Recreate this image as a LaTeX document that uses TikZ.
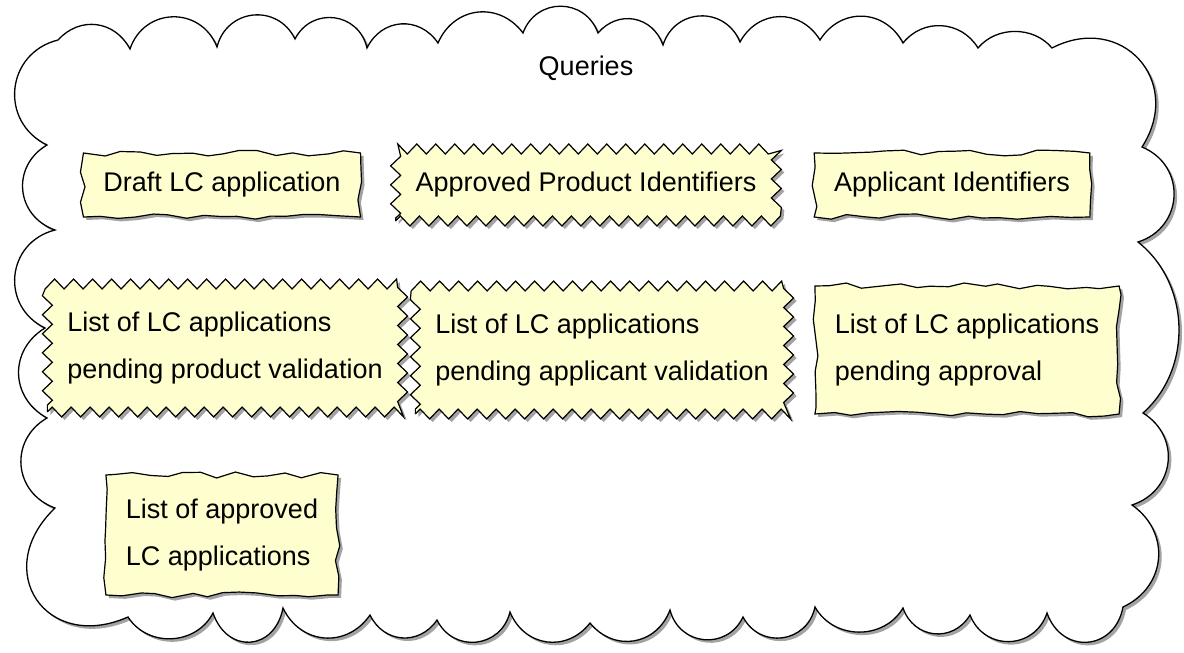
\documentclass[tikz,border=0pt]{standalone}
\usepackage{fontspec}
\setmainfont{Liberation Sans}
\usepackage{tikz}
\usetikzlibrary{decorations.pathmorphing,shadows}
\definecolor{notefill}{HTML}{FEFECE}
\newcommand\qfont{\fontsize{27pt}{47pt}\selectfont}
\tikzset{
  querycloud/.style = {draw, line width=1.3pt, fill=white,
    drop shadow={shadow xshift=3pt, shadow yshift=-3pt, fill=black!60, opacity=.6},
    every to/.style={bend left=70, looseness=1.3}},
  query/.style = {draw, line width=1.2pt, fill=notefill, font=\qfont,
    inner xsep=20pt, minimum height=64pt, decorate,
    decoration={zigzag, segment length=19pt, amplitude=5pt},
    drop shadow={shadow xshift=3pt, shadow yshift=-3pt, fill=black!60, opacity=.6}},
  rough/.style = {decoration={random steps, segment length=17pt, amplitude=3pt}},
  twoline/.style = {align=left, minimum height=128pt},
}

\begin{document}
\begin{tikzpicture}[x=1pt,y=-1pt]
\pgfmathsetseed{7}
\useasboundingbox (0,0) rectangle (1184,653);
\draw[querycloud] (58,40) to[bend left=55, looseness=1.15] (130,49) to (217,47) to (295,39)
  to (367,48) to[bend left=60, looseness=1.2] (438,43) to[bend left=60, looseness=1.2] (523,33)
  to (598,33) to[bend left=60, looseness=1.2] (663,45) to (740,42) to[bend left=60, looseness=1.2] (820,40)
  to[bend left=60, looseness=1.2] (903,43) to[bend left=55, looseness=1.1] (978,48)
  to[bend left=50, looseness=1] (1052,48) to[bend left=75, looseness=1.5] (1142,147)
  to (1138,242) to[bend left=50, looseness=1] (1143,413) to[bend left=65, looseness=1.25] (1132,505)
  to[bend left=60, looseness=1.2] (1123,607) to[bend left=75, looseness=1.5] (1047,613)
  to (970,615) to[bend left=65, looseness=1.25] (903,608) to[bend left=60, looseness=1.1] (815,607)
  to (743,617) to (670,610) to[bend left=60, looseness=1.2] (590,623)
  to[bend left=60, looseness=1.2] (510,612) to (437,620) to[bend left=60, looseness=1.2] (370,615)
  to[bend left=60, looseness=1.2] (283,608) to[bend left=75, looseness=1.6] (213,613)
  to[bend left=60, looseness=1.1] (128,617) to[bend left=80, looseness=1.75] (55,508)
  to[bend left=65, looseness=1.25] (47,418) to[bend left=60, looseness=1.2] (45,328)
  to (55,230) to[bend left=65, looseness=1.25] (47,145) to (58,40) -- cycle;
\node[font=\qfont] (title) at (586,68) {Queries};
\node[query, rough] (draft) at (222,185) {Draft LC application};
\node[query, minimum height=72pt] (product) at (586,185) {Approved Product Identifiers};
\node[query, rough] (applicant) at (952,185) {Applicant Identifiers};
\node[query, twoline] (pendproduct) at (225,348) {List of LC applications\\pending product validation};
\node[query, twoline] (pendapplicant) at (602,350) {List of LC applications\\pending applicant validation};
\node[query, rough, twoline] (pendapproval) at (967,350) {List of LC applications\\pending approval};
\node[query, rough, twoline, minimum height=120pt] (approved) at (222,535) {List of approved\\LC applications};
\end{tikzpicture}
\end{document}
